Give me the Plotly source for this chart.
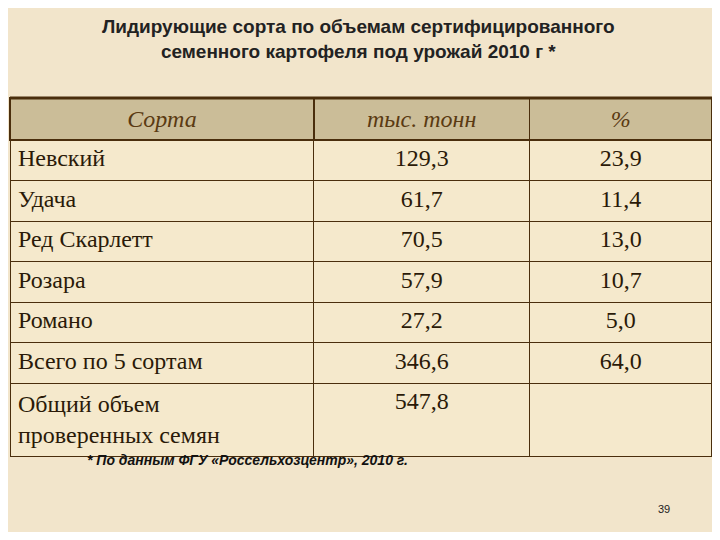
import plotly.graph_objects as go

headers = ["Сорта", "тыс. тонн", "%"]
varieties = ["Невский", "Удача", "Ред Скарлетт", "Розара", "Романо", "Всего по 5 сортам", "Общий объем<br>проверенных семян"]
tonnes = ["129,3", "61,7", "70,5", "57,9", "27,2", "346,6", "547,8"]
percent = ["23,9", "11,4", "13,0", "10,7", "5,0", "64,0", ""]

W, H = 704, 524
def px(X): return (X - 8) / W
def py(Y): return 1 - (Y - 8) / H

line = "#4a2e0c"
fig = go.Figure(go.Table(
    domain=dict(x=[px(10), px(712)], y=[0.02, py(98)]),
    columnwidth=[303, 215, 182],
    header=dict(values=[f"<i>{h}</i>" for h in headers],
                fill_color="#cbbd98", line=dict(color=line, width=1.5),
                align="center", height=42,
                font=dict(family="Liberation Serif", size=24, color="#5a3a12")),
    cells=dict(values=[varieties, tonnes, percent],
               fill_color="#f5e9cc", line=dict(color=line, width=1),
               align=["left", "center", "center"], height=40.5,
               font=dict(family="Liberation Serif", size=24, color="#2a1a08")),
))
fig.add_shape(type="line", xref="paper", yref="paper", x0=px(10), x1=px(712),
              y0=py(98), y1=py(98), line=dict(color=line, width=3))
fig.add_annotation(x=px(358), y=py(14), xref="paper", yref="paper", showarrow=False, yanchor="top",
                   text="<b>Лидирующие сорта по объемам сертифицированного<br>семенного картофеля под урожай 2010 г *</b>",
                   font=dict(family="Liberation Sans", size=19, color="#222222"))
fig.add_annotation(x=px(85), y=py(470), xref="paper", yref="paper", showarrow=False, xanchor="left",
                   text="<b><i>* По данным ФГУ «Россельхозцентр», 2010 г.</i></b>",
                   font=dict(family="Liberation Sans", size=14, color="#111111"))
fig.add_annotation(x=px(672), y=py(517), xref="paper", yref="paper", showarrow=False,
                   text="39", font=dict(family="Liberation Sans", size=11, color="#222222"))
fig.update_layout(width=W, height=H, margin=dict(l=0, r=0, t=0, b=0),
                  paper_bgcolor="#f2e5cb", plot_bgcolor="#f2e5cb")
fig.write_html("out.html")
